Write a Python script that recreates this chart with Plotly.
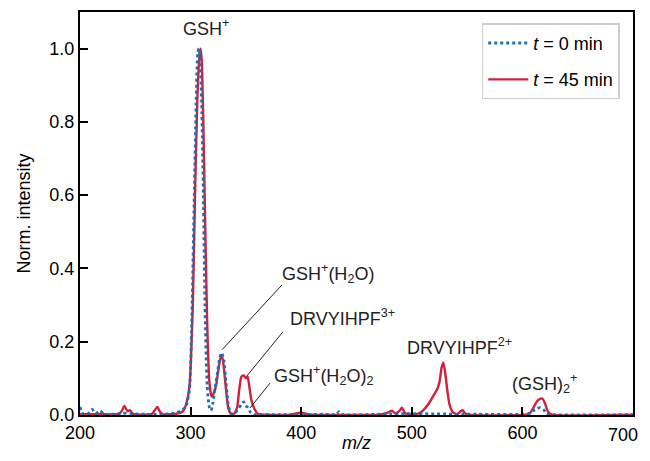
import plotly.graph_objects as go

# t = 0 min (blue, dotted)
mz0 = [200, 203, 207, 211, 214, 218, 222, 230, 238, 250, 260, 275, 285, 292, 296, 299, 301, 303, 305,
       306.5, 307.5, 308.5, 310, 311.5, 313, 315, 317, 318.5, 320, 322, 324, 326, 328, 330, 332, 334,
       336, 338, 341, 344, 346, 348, 350, 352, 354, 357, 380, 420, 432, 434, 436, 480, 495, 520, 560,
       600, 607, 610, 613, 616, 619, 622, 626, 700]
int0 = [0.022, 0.002, 0.003, 0.015, 0.004, 0.011, 0.002, 0.002, 0.005, 0.003, 0.002, 0.002, 0.005,
        0.012, 0.025, 0.07, 0.25, 0.55, 0.85, 0.99, 1.0, 0.98, 0.85, 0.6, 0.3, 0.08, 0.02, 0.012, 0.03,
        0.07, 0.11, 0.15, 0.17, 0.15, 0.09, 0.03, 0.005, 0.002, 0.008, 0.02, 0.03, 0.036, 0.025, 0.02,
        0.008, 0.002, 0.001, 0.002, 0.002, 0.009, 0.002, 0.003, 0.004, 0.003, 0.002, 0.002, 0.005,
        0.012, 0.018, 0.02, 0.015, 0.004, 0.001, 0.001]

# t = 45 min (red, solid)
mz45 = [200, 220, 235, 238, 240, 243, 245, 248, 265, 268, 270, 272, 275, 288, 293, 296, 299, 302, 304,
        306, 308, 309, 310, 311.5, 313, 315, 317, 319, 321, 323, 325, 327, 328.5, 330, 332, 334, 336,
        339, 342, 344, 346, 348, 350, 351.5, 353, 355, 358, 361, 390, 395, 400, 405, 410, 470, 478, 482,
        485, 489, 491, 494, 498, 505, 510, 515, 520, 523, 525, 527, 528.5, 530, 532, 534, 537, 541, 544,
        546, 548, 551, 603, 607, 610, 613, 616, 618, 620, 623, 626, 700]
int45 = [0.003, 0.002, 0.003, 0.012, 0.025, 0.01, 0.013, 0.003, 0.003, 0.015, 0.022, 0.01, 0.002,
         0.004, 0.01, 0.03, 0.08, 0.3, 0.6, 0.85, 0.98, 1.0, 0.97, 0.8, 0.55, 0.25, 0.09, 0.05, 0.06,
         0.08, 0.12, 0.155, 0.16, 0.13, 0.07, 0.02, 0.005, 0.003, 0.02, 0.07, 0.105, 0.108, 0.1, 0.105,
         0.08, 0.04, 0.015, 0.003, 0.001, 0.004, 0.006, 0.003, 0.001, 0.001, 0.006, 0.012, 0.004, 0.012,
         0.02, 0.005, 0.002, 0.003, 0.012, 0.03, 0.055, 0.07, 0.09, 0.13, 0.143, 0.12, 0.07, 0.03, 0.008,
         0.002, 0.01, 0.013, 0.005, 0.001, 0.001, 0.006, 0.02, 0.037, 0.044, 0.045, 0.035, 0.01, 0.002,
         0.001]

x_ticks = [200, 300, 400, 500, 600, 700]
y_ticks = [0.0, 0.2, 0.4, 0.6, 0.8, 1.0]

FONT = "Liberation Sans, Arial, sans-serif"
FS = 18
BLUE = "#1a6fb0"
RED = "#d31f3c"

fig = go.Figure()
fig.add_trace(go.Scatter(x=mz45, y=int45, mode="lines", name="<i>t</i> = 45 min",
                         line=dict(color=RED, width=2.4, shape="spline", smoothing=0.6),
                         legendrank=2, legendgroup="b"))
fig.add_trace(go.Scatter(x=mz0, y=int0, mode="lines", name="<i>t</i> = 0 min",
                         line=dict(color=BLUE, width=2.8, dash="dot", shape="spline", smoothing=0.6),
                         legendrank=1, legendgroup="a"))

labels = [
    dict(x=314, y=1.057, text="GSH<sup>+</sup>", xanchor="center"),
    dict(x=381, y=0.385, text="GSH<sup>+</sup>(H<sub>2</sub>O)", xanchor="left"),
    dict(x=388, y=0.265, text="DRVYIHPF<sup>3+</sup>", xanchor="left"),
    dict(x=374, y=0.108, text="GSH<sup>+</sup>(H<sub>2</sub>O)<sub>2</sub>", xanchor="left"),
    dict(x=543.5, y=0.186, text="DRVYIHPF<sup>2+</sup>", xanchor="center"),
    dict(x=620, y=0.085, text="(GSH)<sub>2</sub><sup>+</sup>", xanchor="center"),
]
for a in labels:
    fig.add_annotation(x=a["x"], y=a["y"], text=a["text"], xanchor=a["xanchor"], yanchor="middle",
                       showarrow=False, font=dict(family=FONT, size=FS, color="#222"))

leader_lines = [
    (328.4, 0.178, 382.6, 0.355),
    (351.0, 0.107, 383.5, 0.227),
    (353.7, 0.019, 371.8, 0.087),
]
for x0, y0, x1, y1 in leader_lines:
    fig.add_shape(type="line", x0=x0, y0=y0, x1=x1, y1=y1, xref="x", yref="y",
                  line=dict(color="#222", width=1))

# last x tick label drawn as an annotation, pulled in so it is not clipped at the page edge
x_tick_text = [str(v) for v in x_ticks]
fig.add_annotation(x=x_ticks[-1], xref="x", y=0, yref="paper", text=x_tick_text[-1],
                   xanchor="right", yanchor="top", xshift=7, yshift=-8, showarrow=False,
                   font=dict(family=FONT, size=FS, color="black"))

# page body has an 8px default margin, so the figure is sized/offset to compensate
fig.update_layout(
    width=642, height=445,
    margin=dict(l=72, r=17, t=4, b=38, autoexpand=False),
    paper_bgcolor="white", plot_bgcolor="white",
    font=dict(family=FONT, size=FS, color="black"),
    showlegend=True,
    legend=dict(x=0.976, y=0.972, xanchor="right", yanchor="top",
                bordercolor="#cccccc", borderwidth=1.5, bgcolor="white",
                font=dict(family=FONT, size=FS), traceorder="grouped", tracegroupgap=10,
                itemwidth=40),
)
fig.update_xaxes(range=[200, 700], tickvals=x_ticks, ticktext=x_tick_text[:-1] + [""],
                 ticks="inside", ticklen=8, tickwidth=1.8, tickcolor="black",
                 showline=True, linecolor="black", linewidth=2.2, mirror=True,
                 showgrid=False, zeroline=False, automargin=False,
                 title=dict(text="<i>m/z</i>", font=dict(size=FS), standoff=0),
                 tickfont=dict(size=FS))
fig.update_yaxes(range=[0, 1.1], tickvals=y_ticks, ticktext=["%.1f" % v for v in y_ticks],
                 ticks="inside", ticklen=8, tickwidth=1.8, tickcolor="black",
                 showline=True, linecolor="black", linewidth=2.2, mirror=True,
                 showgrid=False, zeroline=False, automargin=False,
                 title=dict(text="Norm. intensity", font=dict(size=FS), standoff=14),
                 tickfont=dict(size=FS))

fig.write_html("out.html")
